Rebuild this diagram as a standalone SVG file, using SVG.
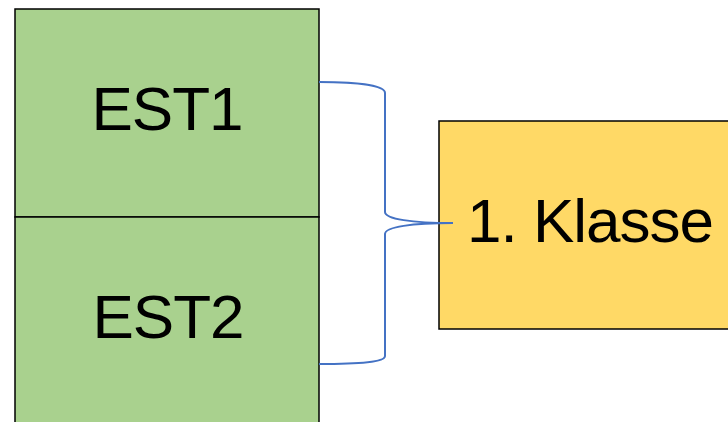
<svg xmlns="http://www.w3.org/2000/svg" width="728" height="422" viewBox="0 0 728 422">
<style>
.box{stroke:#000;stroke-width:1.5}
.green{fill:#A9D18E}
.yellow{fill:#FFD966}
.lbl{font-family:"Liberation Sans",Arial,sans-serif;font-size:62px;letter-spacing:-1px;fill:#000}
.conn{fill:none;stroke:#4472C4;stroke-width:2}
</style>
<rect x="0" y="0" width="728" height="422" fill="#fff"/>
<g id="est1">
<rect class="box green" x="15" y="9" width="304" height="208"/>
<text class="lbl" x="167" y="130" text-anchor="middle">EST1</text>
</g>
<g id="est2">
<rect class="box green" x="15" y="217" width="304" height="215"/>
<text class="lbl" x="168" y="338" text-anchor="middle">EST2</text>
</g>
<g id="klasse">
<rect class="box yellow" x="439" y="121" width="300" height="208"/>
<text class="lbl" x="590" y="242" text-anchor="middle">1. Klasse</text>
</g>
<g id="connectors">
<path class="conn" d="M319,82 C360,82 385,86 385,93 L385,212 C385,219 412,223 453,223 M453,223 C412,223 385,227 385,234 L385,356 C385,362 360,364 319,364"/>
</g>
</svg>
